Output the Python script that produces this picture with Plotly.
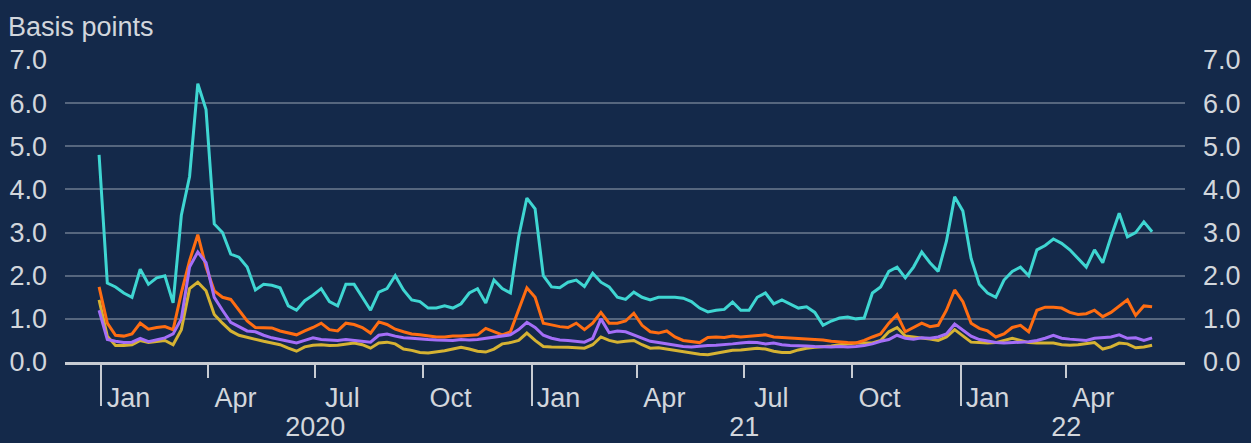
import plotly.graph_objects as go
import pandas as pd

# Weekly observation dates (x categories)
dates = pd.date_range("2019-12-30", periods=129, freq="7D")

cyan = [
    4.8, 1.83, 1.74, 1.6, 1.5, 2.15, 1.8, 1.95, 2.0, 1.37,
    3.4, 4.3, 6.45, 5.85, 3.2, 3.0, 2.5, 2.43, 2.2, 1.67,
    1.8, 1.78, 1.72, 1.3, 1.2, 1.42, 1.55, 1.7, 1.4, 1.3,
    1.8, 1.8, 1.5, 1.2, 1.62, 1.7, 2.0, 1.67, 1.44, 1.4,
    1.25, 1.25, 1.3, 1.25, 1.35, 1.6, 1.7, 1.37, 1.9, 1.7,
    1.6, 2.9, 3.8, 3.55, 2.0, 1.74, 1.72, 1.85, 1.9, 1.75,
    2.06, 1.85, 1.74, 1.5, 1.45, 1.62, 1.5, 1.44, 1.5, 1.5,
    1.5, 1.48, 1.4, 1.25, 1.16, 1.2, 1.22, 1.39, 1.2, 1.2,
    1.5, 1.6, 1.35, 1.44, 1.35, 1.25, 1.28, 1.15, 0.85, 0.95,
    1.02, 1.04, 1.0, 1.02, 1.6, 1.74, 2.1, 2.2, 1.95, 2.2,
    2.55, 2.3, 2.1, 2.8, 3.83, 3.5, 2.4, 1.8, 1.6, 1.5,
    1.9, 2.1, 2.2, 2.0, 2.6, 2.7, 2.85, 2.75, 2.6, 2.4,
    2.2, 2.6, 2.3, 2.9, 3.45, 2.9, 3.0, 3.25, 3.02,
]

orange = [
    1.74, 0.9, 0.62, 0.6, 0.65, 0.9, 0.76, 0.8, 0.82, 0.75,
    1.6, 2.35, 2.95, 2.2, 1.65, 1.5, 1.45, 1.2, 0.95, 0.8,
    0.8, 0.79, 0.72, 0.68, 0.63, 0.72, 0.8, 0.9, 0.75, 0.72,
    0.9, 0.87, 0.8, 0.67, 0.93, 0.87, 0.76, 0.7, 0.65, 0.63,
    0.6, 0.58, 0.58, 0.6, 0.6, 0.62, 0.63, 0.78, 0.7, 0.63,
    0.7, 1.2, 1.72, 1.5, 0.9, 0.86, 0.82, 0.8, 0.9, 0.75,
    0.9, 1.15, 0.9, 0.9, 0.95, 1.13, 0.85, 0.7, 0.67, 0.72,
    0.58, 0.5, 0.47, 0.45, 0.57, 0.58, 0.57, 0.6, 0.58, 0.6,
    0.62, 0.63, 0.58, 0.57, 0.56, 0.55, 0.53, 0.52, 0.51, 0.48,
    0.46, 0.45, 0.44, 0.5, 0.58, 0.65, 0.9, 1.1, 0.7, 0.8,
    0.9, 0.82, 0.85, 1.2, 1.67, 1.4, 0.9, 0.78, 0.72, 0.58,
    0.65, 0.8, 0.85, 0.7, 1.2, 1.27, 1.27, 1.25, 1.15, 1.1,
    1.12, 1.2, 1.05, 1.15, 1.3, 1.44, 1.08, 1.3, 1.28,
]

purple = [
    1.2, 0.52, 0.48, 0.45, 0.46, 0.55, 0.47, 0.52, 0.56, 0.65,
    1.0, 2.2, 2.55, 2.3, 1.5, 1.2, 0.92, 0.82, 0.72, 0.7,
    0.62, 0.56, 0.52, 0.47, 0.44, 0.5, 0.56, 0.52, 0.51, 0.5,
    0.52, 0.5, 0.48, 0.46, 0.62, 0.65, 0.6, 0.56, 0.55, 0.53,
    0.52, 0.51, 0.51, 0.5, 0.52, 0.51, 0.52, 0.55, 0.58, 0.6,
    0.63, 0.75, 0.92, 0.8, 0.62, 0.55, 0.51, 0.5, 0.48, 0.46,
    0.55, 1.0, 0.68, 0.72, 0.7, 0.63, 0.55, 0.48, 0.45, 0.42,
    0.38, 0.36, 0.35, 0.37, 0.38, 0.39, 0.4, 0.42, 0.44, 0.46,
    0.45, 0.42, 0.44, 0.4, 0.38, 0.38, 0.37, 0.36, 0.35, 0.35,
    0.36, 0.35, 0.36, 0.38, 0.42, 0.48, 0.52, 0.62, 0.55, 0.53,
    0.56, 0.55, 0.58, 0.65, 0.88, 0.75, 0.6, 0.52, 0.48, 0.45,
    0.44, 0.45, 0.46, 0.47, 0.5, 0.55, 0.62, 0.55, 0.53, 0.52,
    0.5, 0.55, 0.56, 0.58, 0.63, 0.55, 0.56, 0.5, 0.56,
]

yellow = [
    1.44, 0.6, 0.38, 0.38, 0.4, 0.5, 0.45, 0.47, 0.5, 0.4,
    0.75, 1.7, 1.85, 1.65, 1.1, 0.9, 0.72, 0.62, 0.57, 0.52,
    0.48, 0.44, 0.4, 0.32, 0.25, 0.35, 0.39, 0.4, 0.38, 0.39,
    0.42, 0.44, 0.4, 0.32, 0.44, 0.46, 0.42, 0.3, 0.27, 0.22,
    0.21, 0.23, 0.26, 0.3, 0.34, 0.3, 0.25, 0.23, 0.3, 0.42,
    0.45, 0.5, 0.67, 0.5, 0.36, 0.35, 0.35, 0.34, 0.33, 0.32,
    0.4, 0.58, 0.5, 0.46, 0.48, 0.5, 0.4, 0.32, 0.33, 0.3,
    0.28, 0.25, 0.22, 0.18, 0.17, 0.2, 0.24, 0.27, 0.28, 0.3,
    0.32, 0.3, 0.25, 0.22, 0.22, 0.28, 0.32, 0.34, 0.35, 0.37,
    0.4, 0.42, 0.44, 0.44, 0.44, 0.5, 0.7, 0.8, 0.6, 0.58,
    0.56, 0.53, 0.5, 0.58, 0.75, 0.6, 0.46, 0.45, 0.44, 0.45,
    0.5, 0.55, 0.5, 0.45, 0.44, 0.44, 0.44, 0.4, 0.39, 0.4,
    0.43, 0.45, 0.3, 0.35, 0.44, 0.42, 0.33, 0.35, 0.39,
]

month_labels = ["Jan", "Apr", "Jul", "Oct", "Jan", "Apr", "Jul", "Oct", "Jan", "Apr"]
month_label_pos = ["2020-01-24", "2020-04-24", "2020-07-24", "2020-10-24",
                   "2021-01-24", "2021-04-24", "2021-07-24", "2021-10-24",
                   "2022-01-24", "2022-04-24"]
quarter_ticks = ["2020-04-01", "2020-07-01", "2020-10-01",
                 "2021-04-01", "2021-07-01", "2021-10-01", "2022-04-01"]
year_ticks = ["2020-01-01", "2021-01-01", "2022-01-01"]
year_labels = ["2020", "21", "22"]
year_label_pos = ["2020-07-01", "2021-07-01", "2022-04-01"]
x_range = ["2019-12-01", "2022-07-11"]
y_range = [0, 7]

BG = "#14294a"
GRID = "#56667e"
AXIS = "#c8ccd3"
TXT = "#d2d6dc"
FONT = "Liberation Sans, Arial, sans-serif"
FS = 27

fig = go.Figure()
fig.add_trace(go.Scatter(x=dates, y=yellow, mode="lines", name="yellow",
                         line=dict(color="#d6b333", width=3), xaxis="x", yaxis="y"))
fig.add_trace(go.Scatter(x=dates, y=orange, mode="lines", name="orange",
                         line=dict(color="#ff6d12", width=3), xaxis="x", yaxis="y"))
fig.add_trace(go.Scatter(x=dates, y=purple, mode="lines", name="purple",
                         line=dict(color="#a46ef8", width=3), xaxis="x", yaxis="y"))
fig.add_trace(go.Scatter(x=dates, y=cyan, mode="lines", name="cyan",
                         line=dict(color="#3fd6d2", width=3), xaxis="x2", yaxis="y2"))

fig.update_layout(
    width=1251, height=443,
    margin=dict(l=65, r=66, t=60, b=81, autoexpand=False),
    paper_bgcolor=BG, plot_bgcolor=BG,
    showlegend=False,
    font=dict(family=FONT, size=FS, color=TXT),
    xaxis=dict(
        type="date", range=x_range, automargin=False,
        tickmode="array", tickvals=month_label_pos, ticktext=month_labels,
        ticks="", showgrid=False, zeroline=False,
        showline=True, linecolor=AXIS, linewidth=3,
        ticklabelstandoff=10,
        minor=dict(ticks="outside", tickmode="array", tickvals=quarter_ticks,
                   ticklen=13, tickwidth=1.5, tickcolor=AXIS, showgrid=False),
    ),
    xaxis2=dict(
        type="date", range=x_range, overlaying="x", anchor="y", side="bottom",
        automargin=False,
        tickmode="array", tickvals=year_label_pos, ticktext=year_labels,
        ticks="", showgrid=False, zeroline=False, showline=False,
        ticklabelstandoff=46,
        minor=dict(ticks="outside", tickmode="array", tickvals=year_ticks,
                   ticklen=43, tickwidth=1.5, tickcolor=AXIS, showgrid=False),
    ),
    yaxis=dict(
        range=y_range, dtick=1, tick0=0, tickformat=".1f", automargin=False,
        showgrid=True, gridcolor=GRID, gridwidth=2, zeroline=False,
        ticks="", ticklabelstandoff=17,
    ),
    yaxis2=dict(
        range=y_range, dtick=1, tick0=0, tickformat=".1f", automargin=False,
        overlaying="y", side="right", anchor="x",
        showgrid=False, zeroline=False, ticks="", ticklabelstandoff=17,
    ),
    annotations=[dict(
        text="Basis points", xref="paper", yref="paper",
        x=-0.053, y=1.11, xanchor="left", yanchor="middle",
        showarrow=False, font=dict(family=FONT, size=FS, color=TXT),
    )],
)

fig.write_html(
    "out.html",
    config={"displayModeBar": False},
    post_script="document.body.style.margin='0px';document.body.style.overflow='hidden';",
)
